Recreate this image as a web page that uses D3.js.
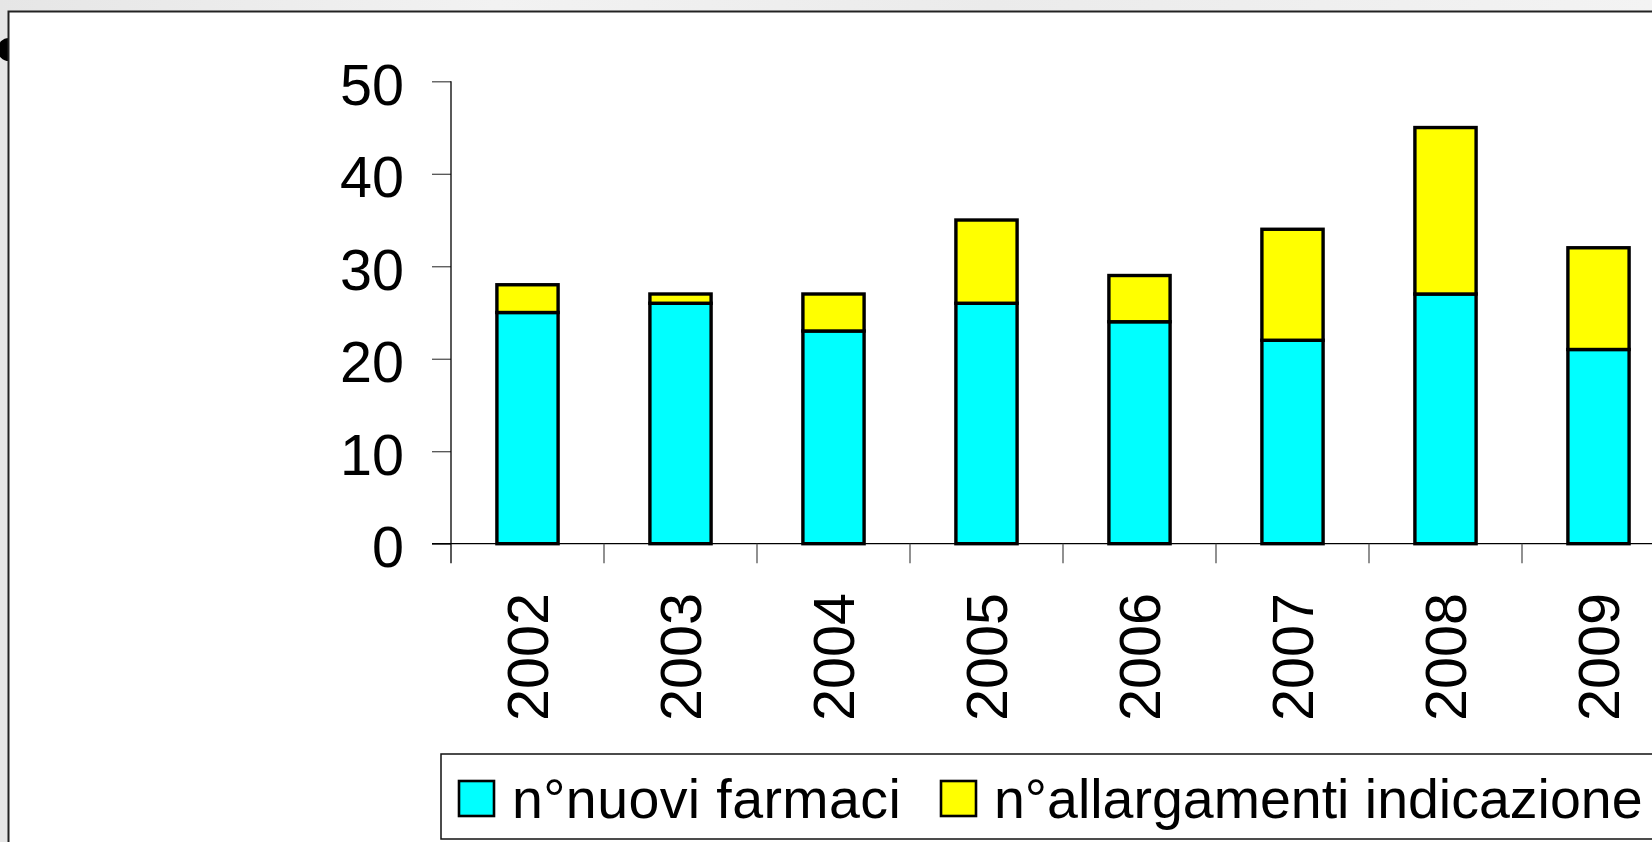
<!DOCTYPE html>
<html>
<head>
<meta charset="utf-8">
<script src="https://cdn.jsdelivr.net/npm/d3@7"></script>
<style>
  html, body { margin: 0; padding: 0; background: #ffffff; overflow: hidden; }
  svg { display: block; }
  text { font-family: "Liberation Sans", Arial, Helvetica, sans-serif; fill: #000; }
</style>
</head>
<body>
<svg id="chart" width="1652" height="842"></svg>
<script>
// ---- data ----
const years = ["2002", "2003", "2004", "2005", "2006", "2007", "2008", "2009"];
const nuoviFarmaci = [25, 26, 23, 26, 24, 22, 27, 21];
const allargamentiIndicazione = [3, 1, 4, 9, 5, 12, 18, 11];
const yTicks = [0, 10, 20, 30, 40, 50];
const seriesNames = ["n°nuovi farmaci", "n°allargamenti indicazione"];
const seriesColors = ["#00FFFF", "#FFFF00"];

const W = 1652, H = 842;
const svg = d3.select("#chart");

// background texture (outside the slide panel)
const defs = svg.append("defs");
const grad = defs.append("linearGradient").attr("id", "bg").attr("x1", 0).attr("y1", 0).attr("x2", 1).attr("y2", 0);
grad.append("stop").attr("offset", "0%").attr("stop-color", "#e6e6e6");
grad.append("stop").attr("offset", "30%").attr("stop-color", "#f2f2f2");
grad.append("stop").attr("offset", "60%").attr("stop-color", "#ebebeb");
grad.append("stop").attr("offset", "100%").attr("stop-color", "#f3f3f3");
svg.append("rect").attr("x", 0).attr("y", 0).attr("width", W).attr("height", H).attr("fill", "url(#bg)");

// bullet dot partially hidden by the panel
svg.append("circle").attr("cx", 9).attr("cy", 49.5).attr("r", 11.5).attr("fill", "#000");

// white panel with frame
svg.append("rect")
  .attr("x", 8.5).attr("y", 11.5).attr("width", W + 20).attr("height", H + 20)
  .attr("fill", "#fff").attr("stroke", "#222").attr("stroke-width", 2);

// ---- scales ----
const x = d3.scaleBand().domain(years)
  .range([451, 451 + 153 * years.length])
  .paddingInner(0.6).paddingOuter(0.3);
const y = d3.scaleLinear().domain([0, 50]).range([543.7, 81.3]);

const stacked = d3.stack().keys([0, 1]).value((d, k) => d[k])(
  years.map((yr, i) => [nuoviFarmaci[i], allargamentiIndicazione[i]])
);

// ---- y axis ----
const yAxis = d3.axisLeft(y).tickValues(yTicks).tickSize(19).tickPadding(28).tickSizeOuter(0);
const gy = svg.append("g").attr("transform", "translate(451,0)").call(yAxis);
gy.select(".domain").remove();
gy.selectAll(".tick line").attr("stroke", "#444").attr("stroke-width", 1.2);
gy.selectAll(".tick text").attr("font-size", 57.5).attr("dy", "0.4em").style("font-family", '"Liberation Sans", Arial, sans-serif');
// vertical axis line (extends below zero like a category boundary tick)
svg.append("line").attr("x1", 451).attr("x2", 451).attr("y1", y(50)).attr("y2", y(0) + 19.6)
  .attr("stroke", "#000").attr("stroke-width", 1.3);

// ---- x axis ----
svg.append("line").attr("x1", 432).attr("x2", W + 5).attr("y1", y(0)).attr("y2", y(0))
  .attr("stroke", "#000").attr("stroke-width", 1.3);
const boundaries = years.map((d, i) => 451 + x.step() * (i + 1));
svg.append("g").selectAll("line").data(boundaries).join("line")
  .attr("x1", d => d).attr("x2", d => d)
  .attr("y1", y(0)).attr("y2", y(0) + 19.6)
  .attr("stroke", "#555").attr("stroke-width", 1.3);

svg.append("g").selectAll("text").data(years).join("text")
  .attr("transform", d => `translate(${x(d) + x.bandwidth() / 2 + 20.8},593) rotate(-90)`)
  .attr("text-anchor", "end")
  .attr("font-size", 57.5)
  .text(d => d);

// ---- bars ----
stacked.forEach((layer, si) => {
  svg.append("g").selectAll("rect").data(layer).join("rect")
    .attr("x", (d, i) => x(years[i]))
    .attr("width", x.bandwidth())
    .attr("y", d => y(d[1]))
    .attr("height", d => y(d[0]) - y(d[1]))
    .attr("fill", seriesColors[si])
    .attr("stroke", "#000")
    .attr("stroke-width", 3.4);
});

// ---- legend ----
svg.append("rect").attr("x", 441).attr("y", 754).attr("width", W).attr("height", 85)
  .attr("fill", "#fff").attr("stroke", "#111").attr("stroke-width", 1.5);
const legendX = [459, 941];
seriesNames.forEach((name, i) => {
  svg.append("rect").attr("x", legendX[i]).attr("y", 781).attr("width", 35).attr("height", 35)
    .attr("fill", seriesColors[i]).attr("stroke", "#000").attr("stroke-width", 2.6);
  svg.append("text").attr("x", legendX[i] + 53).attr("y", 818)
    .attr("font-size", 55.5).attr("letter-spacing", i === 0 ? 0.4 : 0).text(name);
});
</script>
</body>
</html>
